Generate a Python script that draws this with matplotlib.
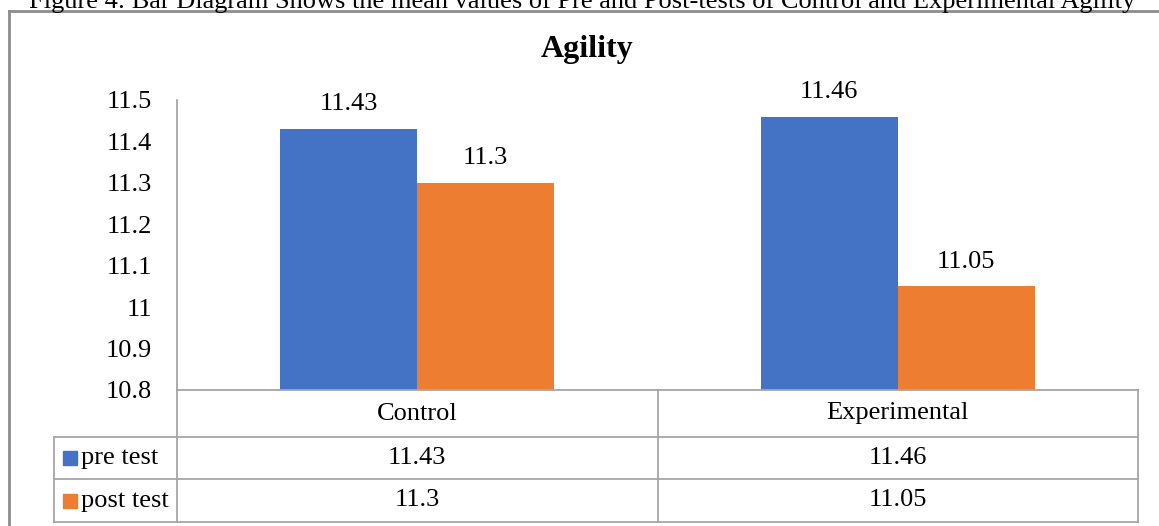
import numpy as np
import matplotlib
matplotlib.use("Agg")
import matplotlib.pyplot as plt
from matplotlib.lines import Line2D
from matplotlib.transforms import blended_transform_factory

plt.rcParams['font.family'] = ['Liberation Serif', 'DejaVu Serif']

# data
groups = ["Control", "Experimental"]
series = ["pre test", "post test"]
pre_test = [11.43, 11.46]
post_test = [11.3, 11.05]
yticks = [10.8, 10.9, 11.0, 11.1, 11.2, 11.3, 11.4, 11.5]
colors = ["#4472C4", "#ED7D31"]
caption = ("Figure 4: Bar Diagram Shows the mean values of Pre and Post-tests "
           "of Control and Experimental Agility")

W, H = 1159, 526
fig = plt.figure(figsize=(W / 100, H / 100), dpi=100)

def fx(px):
    return px / W

def fy(py):
    return 1 - py / H

grey = "#A6A6A6"
fs = 19

# plot area in pixels
left, right, top, bottom = 177, 1138, 100, 390
ax = fig.add_axes([fx(left), fy(bottom), fx(right - left), (bottom - top) / H])

x = np.arange(len(groups))
w = 0.285
values = [pre_test, post_test]
for i, vals in enumerate(values):
    offs = x + (i - 0.5) * w
    bars = ax.bar(offs, vals, w, color=colors[i], zorder=2)
    for b, v in zip(bars, vals):
        ax.annotate("%g" % v, (b.get_x() + b.get_width() / 2, v),
                    xytext=(0, 10), textcoords="offset points",
                    ha="center", va="bottom", fontsize=fs)

ax.set_xlim(-0.5, len(groups) - 0.5)
ax.set_ylim(yticks[0], yticks[-1])
ax.set_yticks(yticks)
ax.set_yticklabels(["%g" % t for t in yticks], fontsize=fs)
ax.tick_params(axis="y", length=0, pad=18)
ax.set_xticks([])
for s in ["top", "right", "bottom"]:
    ax.spines[s].set_visible(False)
ax.spines["left"].set_color(grey)
ax.spines["left"].set_linewidth(1.3)

# title
fig.text(fx(587), fy(50), "Agility", ha="center", va="center",
         fontsize=23, fontweight="bold")

# data table under the chart
bt = blended_transform_factory(ax.transData, fig.transFigure)
row_y = [390, 437, 479, 522]
tab_left = 54

def hline(py, x0, x1):
    fig.add_artist(Line2D([fx(x0), fx(x1)], [fy(py), fy(py)], color=grey, lw=1.3))

def vline(px, y0, y1):
    fig.add_artist(Line2D([fx(px), fx(px)], [fy(y0), fy(y1)], color=grey, lw=1.3))

hline(row_y[0], left, right)
for py in row_y[1:]:
    hline(py, tab_left, right)
vline(tab_left, row_y[1], row_y[3])
vline(left, row_y[0], row_y[3])
vline(right, row_y[0], row_y[3])
for k in range(1, len(groups)):
    xs = ax.transData.transform((k - 0.5, 0))[0]
    vline(xs, row_y[0], row_y[3])

for j, g in enumerate(groups):
    fig.text(j, fy((row_y[0] + row_y[1]) / 2), g, transform=bt,
             ha="center", va="center", fontsize=fs)
    for i, vals in enumerate(values):
        fig.text(j, fy((row_y[i + 1] + row_y[i + 2]) / 2), "%g" % vals[j],
                 transform=bt, ha="center", va="center", fontsize=fs)

for i, name in enumerate(series):
    cy = (row_y[i + 1] + row_y[i + 2]) / 2
    fig.add_artist(plt.Rectangle((fx(63), fy(cy + 7)), fx(14), 14 / H,
                                 color=colors[i]))
    fig.text(fx(81), fy(cy), name, ha="left", va="center", fontsize=fs)

# outer frame and clipped caption
fig.add_artist(Line2D([fx(9), fx(W)], [fy(11), fy(11)], color="#8C8C8C", lw=2))
fig.add_artist(Line2D([fx(9), fx(9)], [fy(11), fy(H)], color="#8C8C8C", lw=2))
fig.text(fx(582), fy(8), caption, ha="center", va="baseline", fontsize=19)

fig.savefig("out.png", dpi=100)
